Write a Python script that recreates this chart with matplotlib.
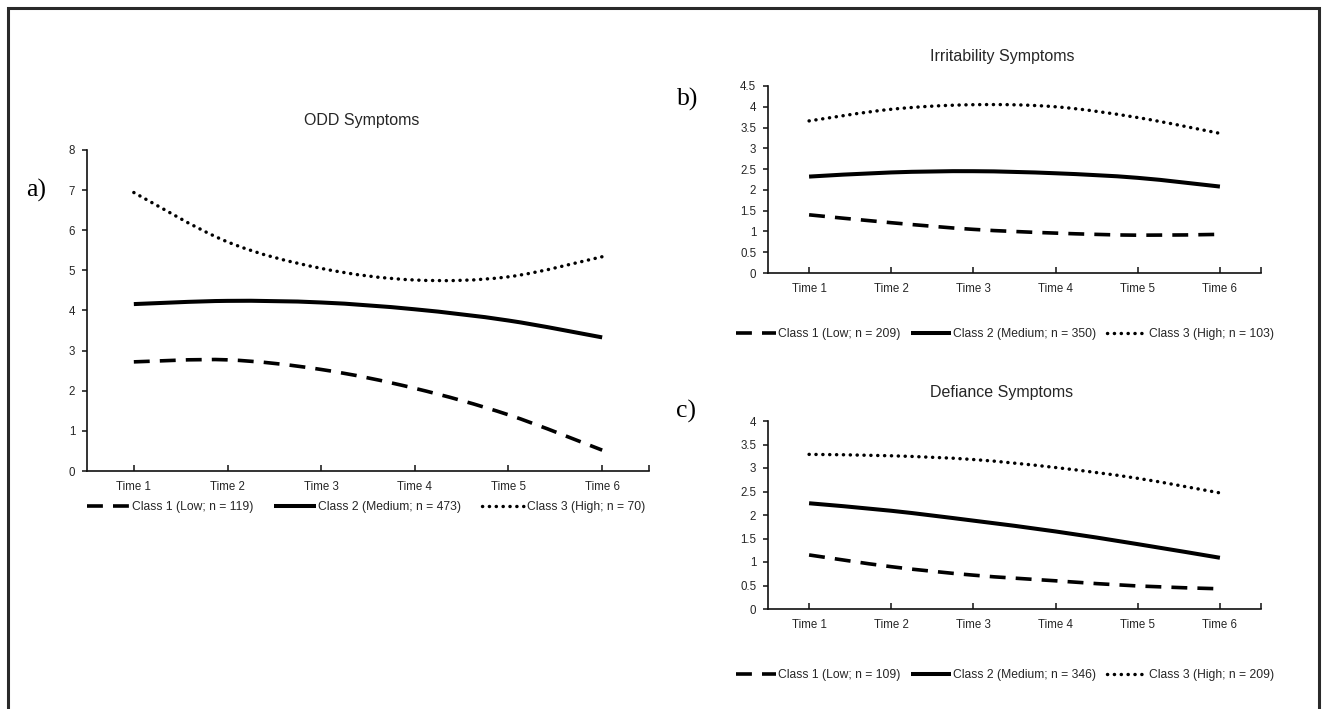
import matplotlib
matplotlib.use("Agg")
import matplotlib.pyplot as plt
from matplotlib.path import Path
from matplotlib.patches import PathPatch, Rectangle
from matplotlib.lines import Line2D
import numpy as np

# ---------------- data ----------------
times = ["Time 1", "Time 2", "Time 3", "Time 4", "Time 5", "Time 6"]

odd_low = [2.72, 2.77, 2.53, 2.06, 1.40, 0.52]
odd_med = [4.16, 4.24, 4.20, 4.03, 3.75, 3.33]
odd_high = [6.94, 5.71, 5.05, 4.76, 4.84, 5.34]
odd_labels = ["Class 1 (Low; n = 119)", "Class 2 (Medium; n = 473)", "Class 3 (High; n = 70)"]
odd_yticks = [0, 1, 2, 3, 4, 5, 6, 7, 8]
odd_yticklabels = ["0", "1", "2", "3", "4", "5", "6", "7", "8"]

irr_low = [1.40, 1.21, 1.05, 0.96, 0.91, 0.93]
irr_med = [2.32, 2.42, 2.45, 2.40, 2.29, 2.08]
irr_high = [3.66, 3.94, 4.05, 4.00, 3.74, 3.36]
irr_labels = ["Class 1 (Low; n = 209)", "Class 2 (Medium; n = 350)", "Class 3 (High; n = 103)"]
irr_yticks = [0, 0.5, 1, 1.5, 2, 2.5, 3, 3.5, 4, 4.5]
irr_yticklabels = ["0", "0.5", "1", "1.5", "2", "2.5", "3", "3.5", "4", "4.5"]

def_low = [1.15, 0.90, 0.72, 0.60, 0.49, 0.43]
def_med = [2.25, 2.09, 1.88, 1.65, 1.38, 1.09]
def_high = [3.29, 3.26, 3.18, 3.01, 2.78, 2.47]
def_labels = ["Class 1 (Low; n = 109)", "Class 2 (Medium; n = 346)", "Class 3 (High; n = 209)"]
def_yticks = [0, 0.5, 1, 1.5, 2, 2.5, 3, 3.5, 4]
def_yticklabels = ["0", "0.5", "1", "1.5", "2", "2.5", "3", "3.5", "4"]

titles = ["ODD Symptoms", "Irritability Symptoms", "Defiance Symptoms"]
panel_tags = ["a)", "b)", "c)"]

# ---------------- style ----------------
W, H = 1322, 709
FONT = "Liberation Sans"
TXT = "#262626"
LW = 2.6

styles = [
    dict(dashes=(4.4, 2.8), capstyle="butt", lw=LW),   # dashed
    dict(dashes=None, capstyle="butt", lw=LW + 0.3),   # solid
    dict(dashes=(0.05, 1.95), capstyle="round", lw=LW * 0.95),  # dotted
]

fig = plt.figure(figsize=(W / 100, H / 100), dpi=100)


def px_axes(left, top, right, bottom):
    return fig.add_axes([left / W, 1 - bottom / H, (right - left) / W, (bottom - top) / H])


def smooth_path(xs, ys):
    """Excel-style smoothed line: cubic Bezier through the data points."""
    pts = np.column_stack([xs, ys]).astype(float)
    n = len(pts)
    verts = [pts[0]]
    codes = [Path.MOVETO]
    for i in range(n - 1):
        p0 = pts[i - 1] if i > 0 else pts[i]
        p1 = pts[i]
        p2 = pts[i + 1]
        p3 = pts[i + 2] if i + 2 < n else pts[i + 1]
        c1 = p1 + (p2 - p0) / 6.0
        c2 = p2 - (p3 - p1) / 6.0
        verts += [c1, c2, p2]
        codes += [Path.CURVE4] * 3
    return Path(verts, codes)


def draw_panel(ax, series, labels, yticks, yticklabels, title, tag, tag_xy,
               title_xy, legend_y, legend_cx, colsp, hlen):
    x = np.arange(1, len(times) + 1)
    handles = []
    for vals, st, lab in zip(series, styles, labels):
        patch = PathPatch(smooth_path(x, vals), fill=False, edgecolor="black",
                          lw=st["lw"], capstyle=st["capstyle"], joinstyle="round")
        if st["dashes"] is not None:
            patch.set_linestyle((0, st["dashes"]))
        ax.add_patch(patch)
        h = Line2D([], [], color="black", lw=st["lw"], solid_capstyle="butt",
                   dash_capstyle=st["capstyle"])
        if st["dashes"] is not None:
            h.set_dashes(st["dashes"])
        handles.append(h)

    ax.set_xlim(0.5, len(times) + 0.5)
    ax.set_ylim(yticks[0], yticks[-1])
    ax.set_xticks(x)
    ax.set_xticklabels(times, fontfamily=FONT, fontsize=8.3, color=TXT)
    ax.set_xticks([len(times) + 0.5], minor=True)
    ax.set_yticks(yticks)
    ax.set_yticklabels(yticklabels, fontfamily=FONT, fontsize=8.3, color=TXT)
    for s in ["top", "right"]:
        ax.spines[s].set_visible(False)
    for s in ["left", "bottom"]:
        ax.spines[s].set_linewidth(1.2)
        ax.spines[s].set_color("#111111")
    ax.tick_params(axis="x", which="both", direction="in", length=4, width=1.1,
                   pad=7, color="#111111")
    ax.tick_params(axis="y", direction="out", length=3.5, width=1.1, pad=5,
                   color="#111111")
    ax.patch.set_alpha(0)

    fig.text(title_xy[0] / W, 1 - title_xy[1] / H, title, ha="center", va="center",
             fontfamily=FONT, fontsize=11.5, color=TXT)
    fig.text(tag_xy[0] / W, 1 - tag_xy[1] / H, tag, ha="center", va="center",
             fontfamily="Liberation Serif", fontsize=18.5, color="black")
    fig.legend(handles, labels, loc="center", ncol=3, frameon=False,
               bbox_to_anchor=(legend_cx / W, 1 - legend_y / H),
               prop=dict(family=FONT, size=8.7), handlelength=hlen,
               handletextpad=0.2, columnspacing=colsp, labelcolor=TXT,
               borderaxespad=0, borderpad=0)


ax_a = px_axes(87, 150, 649, 471)
draw_panel(ax_a, [odd_low, odd_med, odd_high], odd_labels, odd_yticks, odd_yticklabels,
           titles[0], panel_tags[0], (36, 190), (362, 120), 507, 366, 1.7, 3.5)

ax_b = px_axes(768, 86, 1261, 273)
draw_panel(ax_b, [irr_low, irr_med, irr_high], irr_labels, irr_yticks, irr_yticklabels,
           titles[1], panel_tags[1], (688, 99), (1002, 56), 334, 1005, 0.85, 3.3)

ax_c = px_axes(768, 421, 1261, 609)
draw_panel(ax_c, [def_low, def_med, def_high], def_labels, def_yticks, def_yticklabels,
           titles[2], panel_tags[2], (686, 411), (1002, 392), 675, 1005, 0.85, 3.3)

# outer frame (left, top, right edges; bottom is cropped off)
fig.add_artist(Rectangle((7.5 / W, -0.05), (1319 - 7.5) / W, 1 - 7.5 / H + 0.05,
                         transform=fig.transFigure, fill=False,
                         edgecolor="#2a2a2a", lw=2.2))

fig.savefig("out.png", dpi=100)
